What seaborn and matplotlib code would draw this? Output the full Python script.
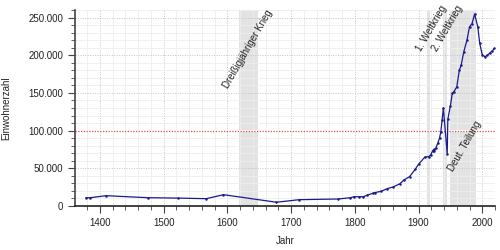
import matplotlib
matplotlib.use("Agg")
import matplotlib.pyplot as plt
import matplotlib.ticker as mticker
import seaborn as sns
import pandas as pd

years = [1378, 1385, 1410, 1475, 1522, 1567, 1594, 1677, 1713, 1774, 1793, 1799,
         1807, 1813, 1819, 1828, 1831, 1841, 1851, 1860, 1871, 1877, 1886, 1895,
         1900, 1910, 1916, 1919, 1922, 1924, 1925, 1927, 1930, 1933, 1935, 1937,
         1939, 1945, 1946, 1950, 1953, 1955, 1960, 1964, 1967, 1971, 1976, 1980,
         1984, 1988, 1993, 1996, 2000, 2004, 2008, 2012, 2016, 2019]
population = [11000, 11000, 13700, 11000, 10500, 9700, 15000, 5000, 8400, 9300, 11000, 12300,
              12300, 12300, 14100, 16800, 17700, 19400, 23000, 25200, 29600, 34500, 38900, 49000,
              55300, 65000, 65400, 67600, 73000, 75000, 73500, 76500, 83000, 90000, 98500, 114000,
              130000, 69000, 115000, 133000, 149500, 151000, 158000, 180000, 187000, 204600, 220000, 237800,
              242000, 254600, 237800, 215800, 200500, 198000, 200000, 203000, 206000, 209000]

periods = [(1618, 1648), (1914, 1918), (1939, 1945), (1949, 1990)]
period_labels = ["Dreißigjähriger Krieg", "1. Weltkrieg", "2. Weltkrieg", "Deut. Teilung"]
label_pos = [(1633, 208000), (1920, 236000), (1945, 236000), (1972, 80000)]

sns.set_style("white")
plt.rcParams['font.family'] = ['Liberation Sans', 'DejaVu Sans']

fig = plt.figure(figsize=(5, 2.5), dpi=100)
ax = fig.add_axes([0.15, 0.176, 0.84, 0.784])

df = pd.DataFrame({"Jahr": years, "Einwohnerzahl": population})

for (a, b) in periods:
    ax.axvspan(a, b, color="#e3e3e3", zorder=0, lw=0)

ax.set_xlim(1361, 2020)
ax.set_ylim(0, 260000)

ax.xaxis.set_major_locator(mticker.MultipleLocator(100))
ax.xaxis.set_minor_locator(mticker.MultipleLocator(20))
ax.yaxis.set_major_locator(mticker.MultipleLocator(50000))
ax.yaxis.set_minor_locator(mticker.MultipleLocator(10000))
ax.yaxis.set_major_formatter(mticker.FuncFormatter(lambda v, p: f"{int(v):,}".replace(",", ".")))

ax.grid(which="minor", color="#eeeeee", lw=0.6, ls="-")
ax.grid(which="major", color="#c4c4c4", lw=0.7, ls=(0, (1, 1.5)))
ax.set_axisbelow(True)

ax.axhline(100000, color="white", lw=1.2, zorder=2.4)
ax.axhline(100000, color="#e05050", lw=0.9, ls=(0, (1, 1.2)), zorder=2.5)

sns.lineplot(data=df, x="Jahr", y="Einwohnerzahl", ax=ax, color="#1a1a8c",
             lw=0.9, marker="o", markersize=1.8, markeredgewidth=0, zorder=3)

for (lx, ly), txt in zip(label_pos, period_labels):
    ax.text(lx, ly, txt, rotation=60, ha="center", va="center", fontsize=7,
            color="#222222", zorder=4)

for s in ["top", "right"]:
    ax.spines[s].set_visible(False)
ax.spines["left"].set_color("#444444")
ax.spines["left"].set_linewidth(1.2)
ax.spines["bottom"].set_color("#222222")
ax.spines["bottom"].set_linewidth(1.2)

ax.tick_params(axis="both", which="major", length=5, width=0.8, color="#444444",
               labelsize=7, labelcolor="#222222", direction="out", bottom=True, left=True)
ax.tick_params(axis="both", which="minor", length=3, width=0.6, color="#444444",
               direction="out", bottom=True, left=True)

ax.set_xlabel("Jahr", fontsize=7, color="#222222", labelpad=6)
ax.set_ylabel("Einwohnerzahl", fontsize=7, color="#222222", labelpad=12)

fig.savefig("out.png", dpi=100)
